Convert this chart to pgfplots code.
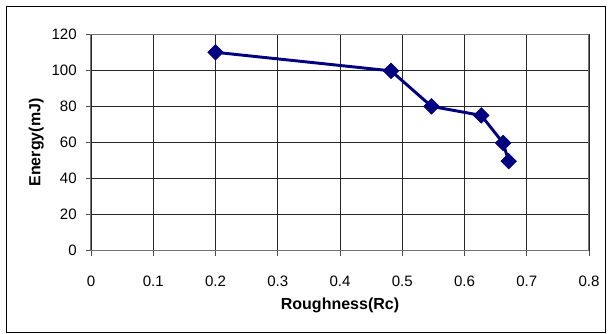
\documentclass[border=0pt]{standalone}
\usepackage{fontspec}
\setmainfont{Liberation Sans}
\usepackage{pgfplots}
\pgfplotsset{compat=1.18}
\definecolor{navyline}{RGB}{0,0,128}
\begin{document}
\begin{tikzpicture}
\fill[white] (0,0) rectangle (456pt,250.5pt);
\draw[black, line width=0.75pt] (4.5pt,0.75pt) rectangle (453.75pt,245.25pt);
\begin{axis}[
  at={(68.25pt,62.5pt)}, anchor=south west,
  scale only axis,
  width=373.5pt, height=162.3pt,
  xmin=0, xmax=0.8, ymin=0, ymax=120,
  xtick={0,0.1,...,0.8}, ytick={0,20,...,120},
  /pgf/number format/assume math mode=true,
  /pgf/number format/fixed,
  grid=major,
  major grid style={black!85, line width=0.6pt},
  axis line style={black!55, line width=0.75pt},
  tick style={black!70, line width=0.6pt},
  tick align=outside,
  major tick length=4pt,
  xtick pos=bottom, ytick pos=left,
  tick label style={font=\fontsize{11.3}{13}\selectfont},
  xticklabel style={anchor=center, yshift=-19pt},
  yticklabel style={anchor=east, inner sep=0pt, xshift=-6.5pt},
  xlabel={\bfseries\fontsize{12}{14}\selectfont Roughness(Rc)},
  ylabel={\bfseries\fontsize{12}{14}\selectfont Energy(mJ)},
  every axis x label/.style={at={(axis description cs:0.5,-0.251)}, anchor=center},
  every axis y label/.style={at={(axis description cs:-0.110,0.5)}, rotate=90, anchor=center},
]
\addplot[navyline, line width=2.2pt, mark=square*, mark size=4.1pt,
  mark options={rotate=45, fill=navyline, line width=0.5pt}]
  coordinates {(0.2,110) (0.482,99.7) (0.547,80) (0.627,75) (0.662,59.7) (0.671,49.6)};
\end{axis}
\end{tikzpicture}
\end{document}
